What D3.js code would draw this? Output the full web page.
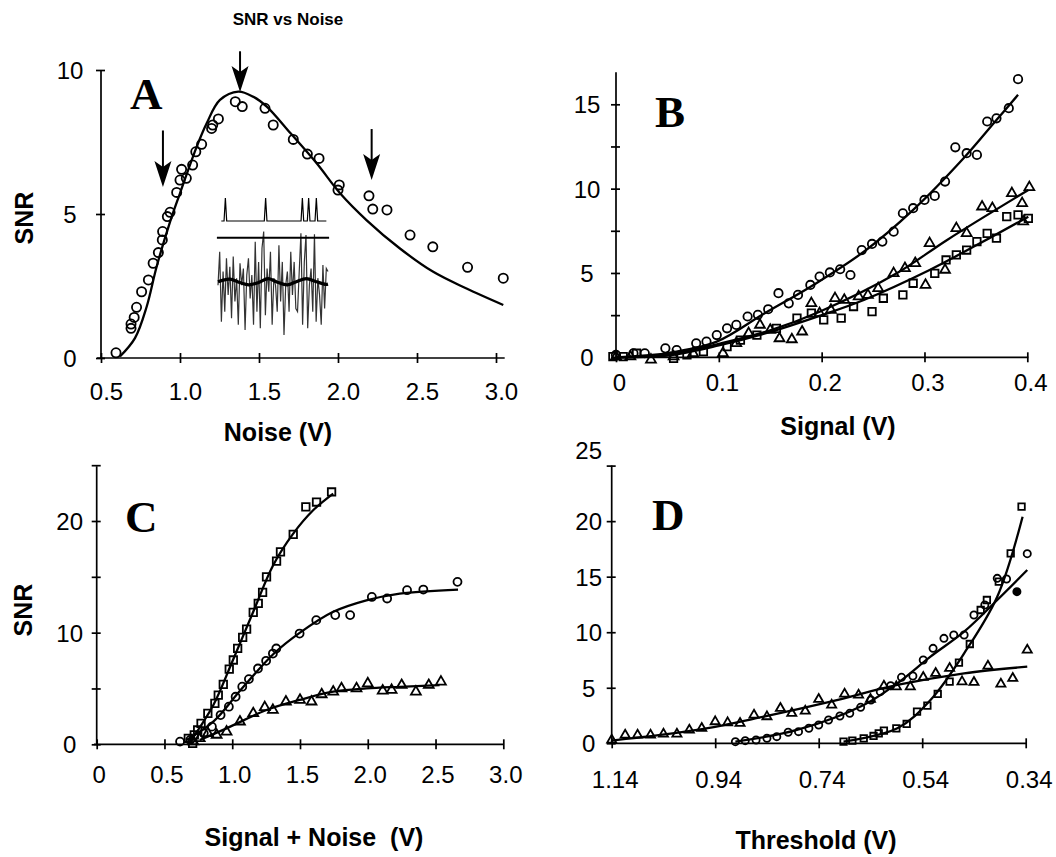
<!DOCTYPE html>
<html lang="en">
<head>
<meta charset="utf-8">
<title>SNR vs Noise</title>
<script src="https://d3js.org/d3.v7.min.js"></script>
<style>
    body { margin: 0; background: #fff; }
    svg text { font-family: "Liberation Sans", Arial, sans-serif; fill: #000; }
    .tick text { font-size: 24px; }
    .axlab { font-size: 25px; font-weight: bold; }
    .letter { font-family: "Liberation Serif", "Times New Roman", serif; font-weight: bold; font-size: 45px; }
    .mk { fill: none; stroke: #000; stroke-width: 1.8; }
    .fit { fill: none; stroke: #000; stroke-width: 2.3; }
</style>
</head>
<body>
<svg width="1056" height="857"></svg>
<script>

// ---- panel A : SNR vs noise ----
var aObs = [[0.595,0.18],[0.69,1.18],[0.69,1.03],[0.71,1.41],[0.725,1.76],[0.757,2.30],[0.80,2.71],
    [0.83,3.29],[0.863,3.66],[0.888,4.10],[0.89,4.39],[0.92,4.91],[0.937,5.06],[0.979,5.75],[1.0,6.18],
    [1.01,6.55],[1.04,6.24],[1.08,6.70],[1.10,7.16],[1.137,7.42],[1.20,7.97],[1.207,8.09],[1.243,8.30],
    [1.35,8.90],[1.394,8.73],[1.538,8.67],[1.59,8.09],[1.717,7.59],[1.806,7.08],[1.88,6.93],[2.008,6.01],
    [2.0,5.83],[2.196,5.63],[2.22,5.17],[2.31,5.14],[2.456,4.27],[2.60,3.86],[2.82,3.15],[3.046,2.77]];
var aFit = [[0.62,0.05],[0.715,0.69],[0.789,1.78],[0.852,3.17],[0.937,4.73],[1.0,5.72],[1.106,7.34],
    [1.169,8.15],[1.253,8.96],[1.369,9.25],[1.464,9.07],[1.549,8.73],[1.70,7.80],[1.865,6.76],[2.013,5.72],
    [2.18,4.79],[2.39,3.81],[2.60,3.0],[2.81,2.42],[3.046,1.84]];
// arrows: noise value, SNR at the tail, SNR at the tip
var aArrows = [[0.892,7.9,5.94],[1.38,10.65,9.24],[2.213,7.95,6.18]];

// inset: noisy input, threshold, periodic signal and output spikes
var insetNoise = [-0.08,0.68,-0.91,0.23,-0.68,0.53,-0.30,0.34,-0.83,0.57,-0.45,0.08,-0.98,0.42,-0.08,
    0.30,-1.10,0.15,0.53,-0.38,0.15,-0.98,0.91,-0.68,0.45,-1.06,0.76,1.14,-0.76,0.30,-0.23,0.68,-0.98,
    0.08,-0.08,-0.68,0.83,-0.45,0.45,-1.21,-0.08,0.23,-0.68,0.68,-0.30,0.45,-0.61,-0.68,0.23,1.10,-0.98,
    0.45,1.06,-1.06,-0.08,0.30,-0.68,1.08,-0.91,0.08,-0.30,-0.98,0.38,-0.61,0.30,0.23];
var insetSine = [[0,0],[0.106,0.06],[0.197,-0.02],[0.28,-0.07],[0.37,-0.02],[0.455,0.07],[0.53,0],
    [0.63,-0.07],[0.712,0],[0.803,0.07],[0.894,0],[0.98,-0.06],[1.0,-0.055]];
var insetSpikes = [0.067,0.433,0.767,0.824,0.894];

// ---- panel B : SNR vs signal ----
var bCirc = [[0,0.14],[0.017,0.24],[0.028,0.24],[0.048,0.53],[0.059,0.43],[0.078,0.83],[0.088,0.93],
    [0.098,1.32],[0.108,1.72],[0.117,1.92],[0.128,2.42],[0.138,2.52],[0.148,2.85],[0.158,3.8],[0.168,3.2],
    [0.177,3.7],[0.189,4.29],[0.198,4.79],[0.208,5.03],[0.218,5.22],[0.228,4.88],[0.239,6.36],[0.249,6.72],
    [0.259,6.86],[0.270,7.45],[0.279,8.54],[0.289,8.84],[0.300,9.33],[0.310,9.57],[0.320,10.42],
    [0.330,12.45],[0.341,12.1],[0.351,12.0],[0.361,13.98],[0.370,14.17],[0.382,14.77],[0.391,16.49]];
var bTri = [[0,0.04],[0.014,0.04],[0.034,-0.15],[0.056,0.04],[0.075,0.24],[0.104,0.24],[0.117,0.83],
    [0.129,1.42],[0.140,1.92],[0.150,1.62],[0.159,1.12],[0.171,1.06],[0.181,1.52],[0.190,3.2],[0.198,2.61],
    [0.209,2.81],[0.213,3.50],[0.222,3.40],[0.236,3.60],[0.245,3.69],[0.255,4.09],[0.270,4.98],[0.281,5.28],
    [0.291,5.58],[0.301,4.29],[0.305,6.76],[0.320,5.18],[0.331,7.65],[0.341,7.35],[0.356,8.93],[0.366,8.84],
    [0.385,9.72],[0.395,9.13],[0.396,8.05],[0.402,10.08]];
var bSq = [[-0.003,0.04],[0.007,0.04],[0.020,0.24],[0.056,-0.06],[0.069,0.14],[0.085,0.34],[0.108,0.63],
    [0.121,1.02],[0.137,1.32],[0.156,1.72],[0.176,2.32],[0.190,2.62],[0.202,2.22],[0.219,2.32],[0.231,3.01],
    [0.249,2.71],[0.260,3.50],[0.279,3.70],[0.289,4.39],[0.310,4.98],[0.321,5.77],[0.331,6.07],[0.341,6.36],
    [0.351,6.86],[0.361,7.35],[0.370,7.06],[0.380,8.34],[0.391,8.44],[0.401,8.24]];
var bCircFit = [[0,0],[0.05,0.25],[0.098,0.93],[0.143,2.55],[0.192,4.29],[0.241,6.26],[0.289,8.74],
    [0.338,11.8],[0.370,14.07],[0.391,15.56]];
var bTriFit = [[0,0],[0.05,0.15],[0.1,0.8],[0.15,1.6],[0.198,2.70],[0.273,4.98],[0.322,6.96],[0.401,9.92]];
var bSqFit = [[0,0],[0.05,0.1],[0.1,0.7],[0.15,1.5],[0.2,2.5],[0.241,3.40],[0.305,5.18],[0.354,6.76],[0.401,8.34]];

// ---- panel C : SNR vs signal + noise ----
var cSq = [[0.676,0.54],[0.708,0.09],[0.72,0.84],[0.745,1.28],[0.77,1.88],[0.82,2.77],[0.872,3.67],
    [0.897,4.41],[0.934,5.37],[0.978,6.74],[1.008,7.55],[1.04,8.59],[1.077,9.58],[1.106,10.32],[1.155,11.81],
    [1.192,12.62],[1.224,13.6],[1.253,15.0],[1.327,16.4],[1.356,17.24],[1.45,18.8],[1.543,21.27],
    [1.622,21.7],[1.733,22.6]];
var cCirc = [[0.615,0.24],[0.69,0.39],[0.79,0.98],[0.85,1.58],[0.914,2.62],[0.975,3.37],[1.025,4.26],
    [1.074,5.16],[1.123,5.84],[1.19,6.79],[1.25,7.48],[1.30,8.13],[1.325,8.58],[1.497,9.92],[1.62,11.12],
    [1.76,11.57],[1.87,11.57],[2.03,13.2],[2.143,13.06],[2.29,13.8],[2.41,13.86],[2.662,14.55]];
var cTri = [[0.713,0.24],[0.76,0.54],[0.82,0.98],[0.885,0.84],[0.958,1.13],[1.057,2.03],[1.155,2.77],
    [1.24,3.31],[1.30,3.07],[1.396,3.82],[1.50,3.97],[1.585,3.82],[1.66,4.47],[1.745,4.71],[1.806,5.0],
    [1.917,5.0],[2.0,5.45],[2.11,4.8],[2.176,4.86],[2.25,5.3],[2.355,4.71],[2.45,5.3],[2.54,5.6]];
var cSqFit = [[0.69,0.24],[0.86,3.5],[1.0,7.4],[1.155,11.87],[1.302,16.04],[1.45,18.87],[1.597,20.96],[1.745,22.45]];
var cCircFit = [[0.663,0.39],[0.86,2.03],[1.062,4.86],[1.308,8.13],[1.50,10.0],[1.745,11.87],[1.99,12.9],
    [2.236,13.5],[2.666,13.86]];
var cTriFit = [[0.76,0.39],[0.958,1.43],[1.253,3.07],[1.497,3.97],[1.745,4.71],[1.99,5.0],[2.236,5.15],[2.53,5.3]];

// ---- panel D : SNR vs threshold ----
var dTri = [[1.14,0.30],[1.114,0.75],[1.090,0.75],[1.065,0.75],[1.040,0.84],[1.014,0.84],[0.990,1.20],
    [0.966,1.36],[0.940,1.95],[0.916,1.86],[0.892,1.80],[0.865,2.55],[0.840,2.40],[0.814,3.15],[0.792,2.70],
    [0.766,2.90],[0.740,3.96],[0.715,3.45],[0.690,4.44],[0.663,4.35],[0.640,3.96],[0.614,5.16],[0.590,5.10],
    [0.563,5.10],[0.538,5.94],[0.514,6.30],[0.487,6.75],[0.463,5.55],[0.440,5.49],[0.413,6.96],[0.388,5.34],
    [0.365,5.85],[0.337,8.40]];
var dCirc = [[0.901,0.15],[0.882,0.24],[0.861,0.30],[0.840,0.45],[0.821,0.60],[0.799,0.99],[0.779,1.05],
    [0.759,1.35],[0.740,1.65],[0.721,2.10],[0.699,2.46],[0.680,2.70],[0.659,3.24],[0.639,3.90],[0.621,4.65],
    [0.601,5.19],[0.580,5.94],[0.558,6.06],[0.538,7.50],[0.519,8.55],[0.498,9.45],[0.479,9.75],[0.459,9.75],
    [0.440,11.55],[0.419,12.45],[0.395,14.85],[0.377,14.79],[0.337,17.07]];
var dCircFilled = [[0.357,13.65]];
var dSq = [[0.692,0.15],[0.675,0.24],[0.653,0.45],[0.634,0.66],[0.624,0.90],[0.614,1.14],[0.590,1.35],
    [0.570,1.74],[0.550,2.85],[0.530,3.39],[0.510,4.44],[0.487,5.55],[0.469,7.26],[0.448,8.94],[0.427,12.0],
    [0.415,12.9],[0.392,14.55],[0.369,17.1],[0.348,21.3]];
var dTriFit = [[1.14,0.24],[0.975,1.2],[0.846,2.4],[0.717,3.75],[0.588,5.25],[0.459,6.3],[0.337,6.9]];
var dCircFit = [[0.901,0.15],[0.782,1.2],[0.653,3.45],[0.588,5.4],[0.524,7.8],[0.459,10.05],[0.395,12.9],[0.337,15.6]];
var dSqFit = [[0.692,0.15],[0.588,1.35],[0.524,3.9],[0.459,8.1],[0.395,13.2],[0.346,20.4]];

// tick values
var aXTicks = [0.5,1.0,1.5,2.0,2.5,3.0], aYTicks = [0,5,10];
var bXTicks = [0,0.1,0.2,0.3,0.4], bYTicks = [0,2.5,5,7.5,10,12.5,15];
var cXTicks = [0,0.5,1.0,1.5,2.0,2.5,3.0], cYTicks = [0,5,10,15,20,25];
var dXTicks = [1.14,0.94,0.74,0.54,0.34], dYTicks = [0,5,10,15,20,25];

var svg = d3.select("svg");

function panel(p) {
    var g = svg.append("g");
    var x = p.x, y = p.y;
    var x0 = x(p.xDomain0), y0 = y(0);

    // axis lines
    g.append("line").attr("x1", x(p.xExt[0])).attr("x2", x(p.xExt[1]))
        .attr("y1", y0).attr("y2", y0).attr("stroke", "#000").attr("stroke-width", 1.7);
    g.append("line").attr("x1", x0).attr("x2", x0)
        .attr("y1", y(p.yExt[0])).attr("y2", y(p.yExt[1])).attr("stroke", "#000").attr("stroke-width", 1.7);

    var gx = g.append("g").attr("transform", "translate(0," + y0 + ")")
        .call(d3.axisBottom(x).tickValues(p.xTicks).tickFormat(p.xFmt).tickSize(5));
    gx.select(".domain").remove();
    gx.selectAll(".tick line").attr("y1", -5).attr("y2", 5).attr("stroke-width", 1.7);
    gx.selectAll(".tick text").attr("y", p.xLabY).attr("dy", 0).attr("dx", p.xLabDx || 0);

    var gy = g.append("g").attr("transform", "translate(" + x0 + ",0)")
        .call(d3.axisLeft(y).tickValues(p.yTicks).tickFormat(p.yFmt).tickSize(4));
    gy.select(".domain").remove();
    gy.selectAll(".tick line").attr("x1", -5).attr("x2", 4).attr("stroke-width", 1.7);
    gy.selectAll(".tick text").attr("x", p.yLabX).attr("text-anchor", "middle").attr("dy", "0.36em");

    var line = d3.line().x(d => x(d[0])).y(d => y(d[1])).curve(d3.curveCatmullRom.alpha(0.5));
    p.fits.forEach(function (f) {
        g.append("path").datum(f).attr("class", "fit").attr("d", line);
    });

    p.sets.forEach(function (s) {
        var sym;
        if (s.shape === "circle") sym = null;
        else sym = d3.symbol().type(s.shape === "tri" ? d3.symbolTriangle : d3.symbolSquare).size(s.size);
        var sel = g.append("g").selectAll("x").data(s.data).enter();
        if (!sym) {
            sel.append("circle").attr("class", "mk")
                .attr("cx", d => x(d[0])).attr("cy", d => y(d[1])).attr("r", s.size)
                .style("fill", s.filled ? "#000" : "none");
        } else {
            sel.append("path").attr("class", "mk").attr("d", sym)
                .attr("transform", d => "translate(" + x(d[0]) + "," + y(d[1]) + ")");
        }
    });
    return g;
}

var fmt1 = d3.format(".1f");

// panel A
var axA = d3.scaleLinear().domain([0.5, 3.0]).range([101, 496]);
var ayA = d3.scaleLinear().domain([0, 10]).range([358, 70]);
var gA = panel({
    x: axA, y: ayA, xDomain0: 0.5, xExt: [0.475, 3.055], yExt: [0, 10],
    xTicks: aXTicks, xFmt: fmt1, yTicks: aYTicks, yFmt: d3.format("d"),
    xLabY: 42, xLabDx: 5, yLabX: -31,
    fits: [aFit],
    sets: [{shape: "circle", data: aObs, size: 4.6}]
});

// arrows in A
aArrows.forEach(function (a) {
    var ax = axA(a[0]), yt = ayA(a[1]), yp = ayA(a[2]);
    gA.append("line").attr("x1", ax).attr("x2", ax).attr("y1", yt).attr("y2", yp - 10)
        .attr("stroke", "#000").attr("stroke-width", 2);
    gA.append("path").attr("fill", "#000")
        .attr("d", "M" + ax + "," + yp + "L" + (ax - 8.5) + "," + (yp - 26) + "L" + ax + "," + (yp - 20)
            + "L" + (ax + 8.5) + "," + (yp - 26) + "Z");
});

// inset in A
var ix = d3.scaleLinear().domain([0, 1]).range([218, 328]);
var iy = d3.scaleLinear().domain([0, 1]).range([281.7, 237.7]);
gA.append("path").datum(insetNoise)
    .attr("d", d3.line().x((d, i) => ix(i / (insetNoise.length - 1))).y(d => iy(d)))
    .attr("fill", "none").attr("stroke", "#333").attr("stroke-width", 1.2);
gA.append("line").attr("x1", ix(-0.01)).attr("x2", ix(1.01)).attr("y1", iy(1)).attr("y2", iy(1))
    .attr("stroke", "#000").attr("stroke-width", 2);
gA.append("path").datum(insetSine)
    .attr("d", d3.line().x(d => ix(d[0])).y(d => iy(d[1])).curve(d3.curveCatmullRom))
    .attr("fill", "none").attr("stroke", "#000").attr("stroke-width", 3.2);
var spikePts = [[0.03, 1.38]];
insetSpikes.forEach(function (t) {
    spikePts.push([t - 0.012, 1.38], [t, 1.9], [t + 0.012, 1.38]);
});
spikePts.push([0.985, 1.38]);
gA.append("path").datum(spikePts)
    .attr("d", d3.line().x(d => ix(d[0])).y(d => iy(d[1])))
    .attr("fill", "none").attr("stroke", "#000").attr("stroke-width", 1.2);

// panel B
var axB = d3.scaleLinear().domain([0, 0.4]).range([616, 1027.3]);
var ayB = d3.scaleLinear().domain([0, 15]).range([357.3, 104.3]);
panel({
    x: axB, y: ayB, xDomain0: 0, xExt: [-0.004, 0.401], yExt: [0, 16.9],
    xTicks: bXTicks, xFmt: d => d === 0 ? "0" : fmt1(d), yTicks: bYTicks,
    yFmt: d => d % 5 === 0 ? d3.format("d")(d) : "",
    xLabY: 34, xLabDx: 3, yLabX: -29,
    fits: [bCircFit, bTriFit, bSqFit],
    sets: [{shape: "circle", data: bCirc, size: 4.2},
        {shape: "tri", data: bTri, size: 42},
        {shape: "sq", data: bSq, size: 56}]
});

// panel C
var axC = d3.scaleLinear().domain([0, 3.0]).range([96.7, 503.3]);
var ayC = d3.scaleLinear().domain([0, 20]).range([744.3, 521]);
panel({
    x: axC, y: ayC, xDomain0: 0, xExt: [-0.02, 3.0], yExt: [0, 24.9],
    xTicks: cXTicks, xFmt: d => d === 0 ? "0" : fmt1(d), yTicks: cYTicks,
    yFmt: d => (d === 0 || d === 10 || d === 20) ? d3.format("d")(d) : "",
    xLabY: 39, xLabDx: 2, yLabX: -27,
    fits: [cSqFit, cCircFit, cTriFit],
    sets: [{shape: "sq", data: cSq, size: 56},
        {shape: "circle", data: cCirc, size: 4},
        {shape: "tri", data: cTri, size: 42}]
});

// panel D
var axD = d3.scaleLinear().domain([1.14, 0.34]).range([611.7, 1025.7]);
var ayD = d3.scaleLinear().domain([0, 25]).range([743.3, 465.6]);
var gD = panel({
    x: axD, y: ayD, xDomain0: 1.14, xExt: [1.14, 0.338], yExt: [0, 25],
    xTicks: dXTicks, xFmt: d3.format(".2f"), yTicks: dYTicks, yFmt: d3.format("d"),
    xLabY: 45, xLabDx: 3, yLabX: -23,
    fits: [dTriFit, dCircFit, dSqFit],
    sets: [{shape: "tri", data: dTri, size: 36},
        {shape: "circle", data: dCirc, size: 3.6},
        {shape: "circle", data: dCircFilled, size: 3.6, filled: true},
        {shape: "sq", data: dSq, size: 42}]
});
// the top label of D sits above its tick
gD.selectAll(".tick text").filter(d => d === 25).attr("dy", "-0.3em");

// titles and labels
svg.append("text").attr("x", 288).attr("y", 25).attr("text-anchor", "middle")
    .style("font-size", "17px").style("font-weight", "bold").text("SNR vs Noise");

var labs = [
    {t: "Noise (V)", x: 278, y: 441},
    {t: "Signal (V)", x: 838, y: 435},
    {t: "Signal + Noise  (V)", x: 314, y: 846},
    {t: "Threshold (V)", x: 816, y: 849}
];
labs.forEach(function (l) {
    svg.append("text").attr("class", "axlab").attr("x", l.x).attr("y", l.y)
        .attr("text-anchor", "middle").style("white-space", "pre").text(l.t);
});
[[33, 218], [32, 610]].forEach(function (p) {
    svg.append("text").attr("class", "axlab").attr("text-anchor", "middle")
        .attr("transform", "translate(" + p[0] + "," + p[1] + ") rotate(-90)").text("SNR");
});

var letters = [["A", 130, 109], ["B", 655, 127], ["C", 125, 532], ["D", 652, 530]];
letters.forEach(function (l) {
    svg.append("text").attr("class", "letter").attr("x", l[1]).attr("y", l[2]).text(l[0]);
});

</script>
</body>
</html>
